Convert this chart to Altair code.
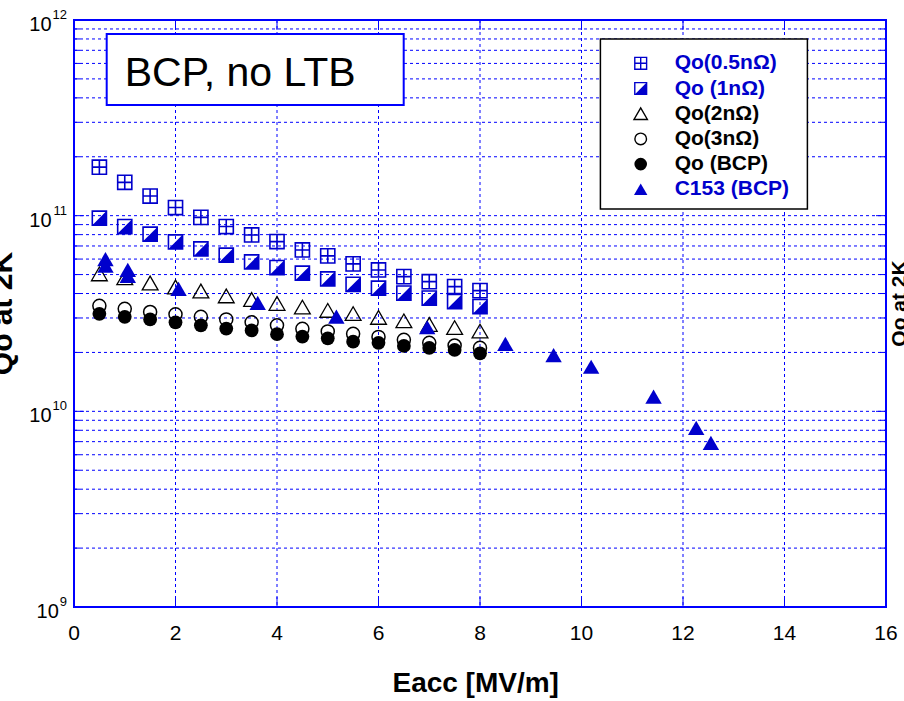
import altair as alt
import pandas as pd

# Qo at 2 K versus accelerating field, BCP-treated cavity, no low-temperature bake
eacc = [0.5, 1.0, 1.5, 2.0, 2.5, 3.0, 3.5, 4.0, 4.5, 5.0, 5.5, 6.0, 6.5, 7.0, 7.5, 8.0]
q_05n = [1.77e11, 1.48e11, 1.26e11, 1.10e11, 9.8e10, 8.8e10, 7.97e10, 7.37e10,
         6.68e10, 6.23e10, 5.67e10, 5.28e10, 4.88e10, 4.60e10, 4.34e10, 4.14e10]
q_1n = [9.71e10, 8.80e10, 8.04e10, 7.34e10, 6.76e10, 6.28e10, 5.80e10, 5.43e10,
        5.08e10, 4.75e10, 4.46e10, 4.26e10, 4.02e10, 3.79e10, 3.64e10, 3.43e10]
q_2n = [5.04e10, 4.81e10, 4.53e10, 4.32e10, 4.12e10, 3.89e10, 3.73e10, 3.56e10,
        3.41e10, 3.28e10, 3.16e10, 3.02e10, 2.90e10, 2.78e10, 2.68e10, 2.57e10]
q_3n = [3.46e10, 3.34e10, 3.22e10, 3.13e10, 3.04e10, 2.95e10, 2.85e10, 2.75e10,
        2.64e10, 2.56e10, 2.49e10, 2.40e10, 2.32e10, 2.24e10, 2.17e10, 2.11e10]
q_bcp = [3.15e10, 3.04e10, 2.95e10, 2.85e10, 2.75e10, 2.65e10, 2.59e10, 2.48e10,
         2.41e10, 2.36e10, 2.27e10, 2.24e10, 2.16e10, 2.11e10, 2.06e10, 1.98e10]

# C153 measured curve
c153_eacc = [0.62, 0.62, 1.06, 1.06, 2.06, 3.62, 5.17, 6.96, 8.50, 9.45, 10.19, 11.42, 12.26, 12.55]
c153_q = [6.0e10, 5.55e10, 5.28e10, 4.92e10, 4.22e10, 3.58e10, 3.05e10, 2.69e10,
          2.21e10, 1.94e10, 1.69e10, 1.19e10, 8.24e9, 6.90e9]

# axis values
x_ticks = [0, 2, 4, 6, 8, 10, 12, 14, 16]
y_decades = [1e9, 1e10, 1e11, 1e12]
y_exponents = ["9", "10", "11", "12"]
y_minor = [k * 10.0 ** e for e in (9, 10, 11) for k in range(2, 10)]

legend_labels = ["Qo(0.5n\u03a9)", "Qo (1n\u03a9)", "Qo(2n\u03a9)", "Qo(3n\u03a9)", "Qo (BCP)", "C153 (BCP)"]

W, H = 812, 587
FONT = "Liberation Sans"
GRID_BLUE = "#0000ff"
BLUE = "#0000cc"

# marker outlines in symbol units (-1..1)
SQUARE = "M -1 -1 L 1 -1 L 1 1 L -1 1 Z"
SQUARE_CROSS = "M -1 -1 L 1 -1 L 1 1 L -1 1 Z M 0 -1 L 0 1 M -1 0 L 1 0"
HALF = "M 1 -1 L 1 1 L -1 1 Z"

xs = alt.Scale(domain=[0, 16], nice=False, zero=False)
ys = alt.Scale(type="log", domain=[1e9, 1e12], nice=False)

df = pd.DataFrame({"eacc": eacc, "q05": q_05n, "q1": q_1n, "q2": q_2n, "q3": q_3n, "qbcp": q_bcp})
c153 = pd.DataFrame({"eacc": c153_eacc, "q": c153_q})
one = pd.DataFrame({"k": [0]})

yt = pd.DataFrame({"v": y_decades + y_minor,
                   "major": [True] * len(y_decades) + [False] * len(y_minor)})
xt = pd.DataFrame({"v": x_ticks})

# dotted grid
y_grid = alt.Chart(yt).transform_filter("datum.v > 1e9 && datum.v < 1e12").mark_rule(
    color=GRID_BLUE, strokeWidth=1, strokeDash=[3, 3]).encode(
    y=alt.Y("v:Q", scale=ys, axis=None), x=alt.value(0), x2=alt.value(W))
x_grid = alt.Chart(xt).transform_filter("datum.v > 0 && datum.v < 16").mark_rule(
    color=GRID_BLUE, strokeWidth=1, strokeDash=[3, 3]).encode(
    x=alt.X("v:Q", scale=xs, axis=None), y=alt.value(0), y2=alt.value(H))

# plot frame
frame = alt.Chart(one).mark_rect(fill="transparent", stroke=GRID_BLUE, strokeWidth=2).encode(
    x=alt.value(0), x2=alt.value(W), y=alt.value(0), y2=alt.value(H))


# inward ticks on all four sides
def yrule(major, x0, x1):
    return alt.Chart(yt).transform_filter(
        "datum.major" if major else "!datum.major"
    ).mark_rule(color=GRID_BLUE, strokeWidth=1).encode(
        y=alt.Y("v:Q", scale=ys, axis=None), x=alt.value(x0), x2=alt.value(x1))


def xrule(y0, y1):
    return alt.Chart(xt).mark_rule(color=GRID_BLUE, strokeWidth=1).encode(
        x=alt.X("v:Q", scale=xs, axis=None), y=alt.value(y0), y2=alt.value(y1))


ticks = [yrule(True, 0, 10), yrule(False, 0, 6), yrule(True, W - 10, W), yrule(False, W - 6, W),
         xrule(0, 10), xrule(H - 10, H)]

# x tick labels
x_lab = alt.Chart(xt).mark_text(align="center", baseline="middle", font=FONT, fontSize=21,
                                color="black").encode(
    x=alt.X("v:Q", scale=xs, axis=None), y=alt.value(H + 27), text=alt.Text("v:Q", format="d"))

# y tick labels written as 10 with a raised exponent
ylab = pd.DataFrame({"v": y_decades, "ex": y_exponents})
y_exp = alt.Chart(ylab).mark_text(align="right", baseline="middle", font=FONT, fontSize=13,
                                  color="black", dy=-5).encode(
    y=alt.Y("v:Q", scale=ys, axis=None), x=alt.value(-7), text="ex:N")
y_base = alt.Chart(ylab).transform_calculate(
    lx="-8 - 7.2 * length(datum.ex)"
).mark_text(align="right", baseline="middle", font=FONT, fontSize=20, color="black", dy=5).encode(
    y=alt.Y("v:Q", scale=ys, axis=None), x=alt.X("lx:Q", scale=None), text=alt.value("10"))

# data series
X = alt.X("eacc:Q", scale=xs, axis=None)
s05 = alt.Chart(df).mark_point(shape=SQUARE_CROSS, filled=False, color=BLUE, strokeWidth=1.6,
                               size=200, opacity=1).encode(x=X, y=alt.Y("q05:Q", scale=ys, axis=None))
s1_fill = alt.Chart(df).mark_point(shape=HALF, filled=True, color=BLUE, size=200, opacity=1,
                                   strokeWidth=0).encode(x=X, y=alt.Y("q1:Q", scale=ys, axis=None))
s1_box = alt.Chart(df).mark_point(shape=SQUARE, filled=False, color=BLUE, strokeWidth=1.6,
                                  size=200, opacity=1).encode(x=X, y=alt.Y("q1:Q", scale=ys, axis=None))
s2 = alt.Chart(df).mark_point(shape="triangle-up", filled=False, color="black", strokeWidth=1.3,
                              size=250, opacity=1).encode(x=X, y=alt.Y("q2:Q", scale=ys, axis=None))
s3 = alt.Chart(df).mark_point(shape="circle", filled=False, color="black", strokeWidth=1.5,
                              size=170, opacity=1).encode(x=X, y=alt.Y("q3:Q", scale=ys, axis=None))
sb = alt.Chart(df).mark_point(shape="circle", filled=True, color="black", size=190,
                              opacity=1).encode(x=X, y=alt.Y("qbcp:Q", scale=ys, axis=None))
sc = alt.Chart(c153).mark_point(shape="triangle-up", filled=True, color=BLUE, size=270,
                                opacity=1).encode(x=X, y=alt.Y("q:Q", scale=ys, axis=None))

# boxed annotation
note_box = alt.Chart(one).mark_rect(fill="white", stroke=GRID_BLUE, strokeWidth=2).encode(
    x=alt.value(32.7), x2=alt.value(329.7), y=alt.value(14), y2=alt.value(85))
note_txt = alt.Chart(one).mark_text(text="BCP, no LTB", align="left", baseline="alphabetic",
                                    font=FONT, fontSize=41, color="black").encode(
    x=alt.value(50.7), y=alt.value(65.5))

# legend
leg_box = alt.Chart(one).mark_rect(fill="white", stroke="black", strokeWidth=1.5).encode(
    x=alt.value(526.4), x2=alt.value(733.4), y=alt.value(19), y2=alt.value(189))
leg_sym = pd.DataFrame({
    "row": [0, 1, 1, 2, 3, 4, 5],
    "shp": [SQUARE_CROSS, HALF, SQUARE, "triangle-up", "circle", "circle", "triangle-up"],
    "f": ["transparent", BLUE, "transparent", "transparent", "transparent", "black", BLUE],
    "s": [BLUE, "transparent", BLUE, "black", "black", "transparent", "transparent"],
    "sz": [140, 140, 140, 180, 135, 160, 180],
})
leg_marks = alt.Chart(leg_sym).transform_calculate(
    ly="43.3 + 25.2 * datum.row"
).mark_point(filled=True, opacity=1, strokeWidth=1.4).encode(
    x=alt.value(566.7), y=alt.Y("ly:Q", scale=None),
    shape=alt.Shape("shp:N", scale=None), fill=alt.Fill("f:N", scale=None),
    stroke=alt.Stroke("s:N", scale=None), size=alt.Size("sz:Q", scale=None))
leg_txt_df = pd.DataFrame({"row": list(range(6)), "label": legend_labels,
                           "c": [BLUE, BLUE, "black", "black", "black", BLUE]})
leg_txt = alt.Chart(leg_txt_df).transform_calculate(
    ly="43.3 + 25.2 * datum.row"
).mark_text(align="left", baseline="middle", font=FONT, fontSize=21, fontWeight="bold").encode(
    x=alt.value(600.7), y=alt.Y("ly:Q", scale=None), text="label:N",
    color=alt.Color("c:N", scale=None))

# axis titles
x_title = alt.Chart(one).mark_text(text="Eacc [MV/m]", align="center", baseline="alphabetic",
                                   font=FONT, fontSize=28, fontWeight="bold", color="black").encode(
    x=alt.value(401.7), y=alt.value(672))
y_title = alt.Chart(one).mark_text(text="Qo at 2K", align="center", baseline="alphabetic", angle=270,
                                   font=FONT, fontSize=30, fontWeight="bold", color="black").encode(
    x=alt.value(-61.8), y=alt.value(293.5))
y_title_r = alt.Chart(one).mark_text(text="Qo at 2K", align="center", baseline="alphabetic", angle=270,
                                     font=FONT, fontSize=21, fontWeight="bold", color="black").encode(
    x=alt.value(832.4), y=alt.value(283.5))

chart = alt.layer(
    y_grid, x_grid, *ticks, frame, x_lab, y_exp, y_base,
    s05, s1_fill, s1_box, s2, s3, sb, sc,
    note_box, note_txt, leg_box, leg_marks, leg_txt,
    x_title, y_title, y_title_r,
).properties(
    width=W, height=H,
    autosize=alt.AutoSizeParams(type="none"),
    padding={"left": 74, "top": 20, "right": 18, "bottom": 94},
).configure_view(
    strokeWidth=0
).configure(background="white")

chart.save("out.html", embed_options={"renderer": "svg", "actions": False})
